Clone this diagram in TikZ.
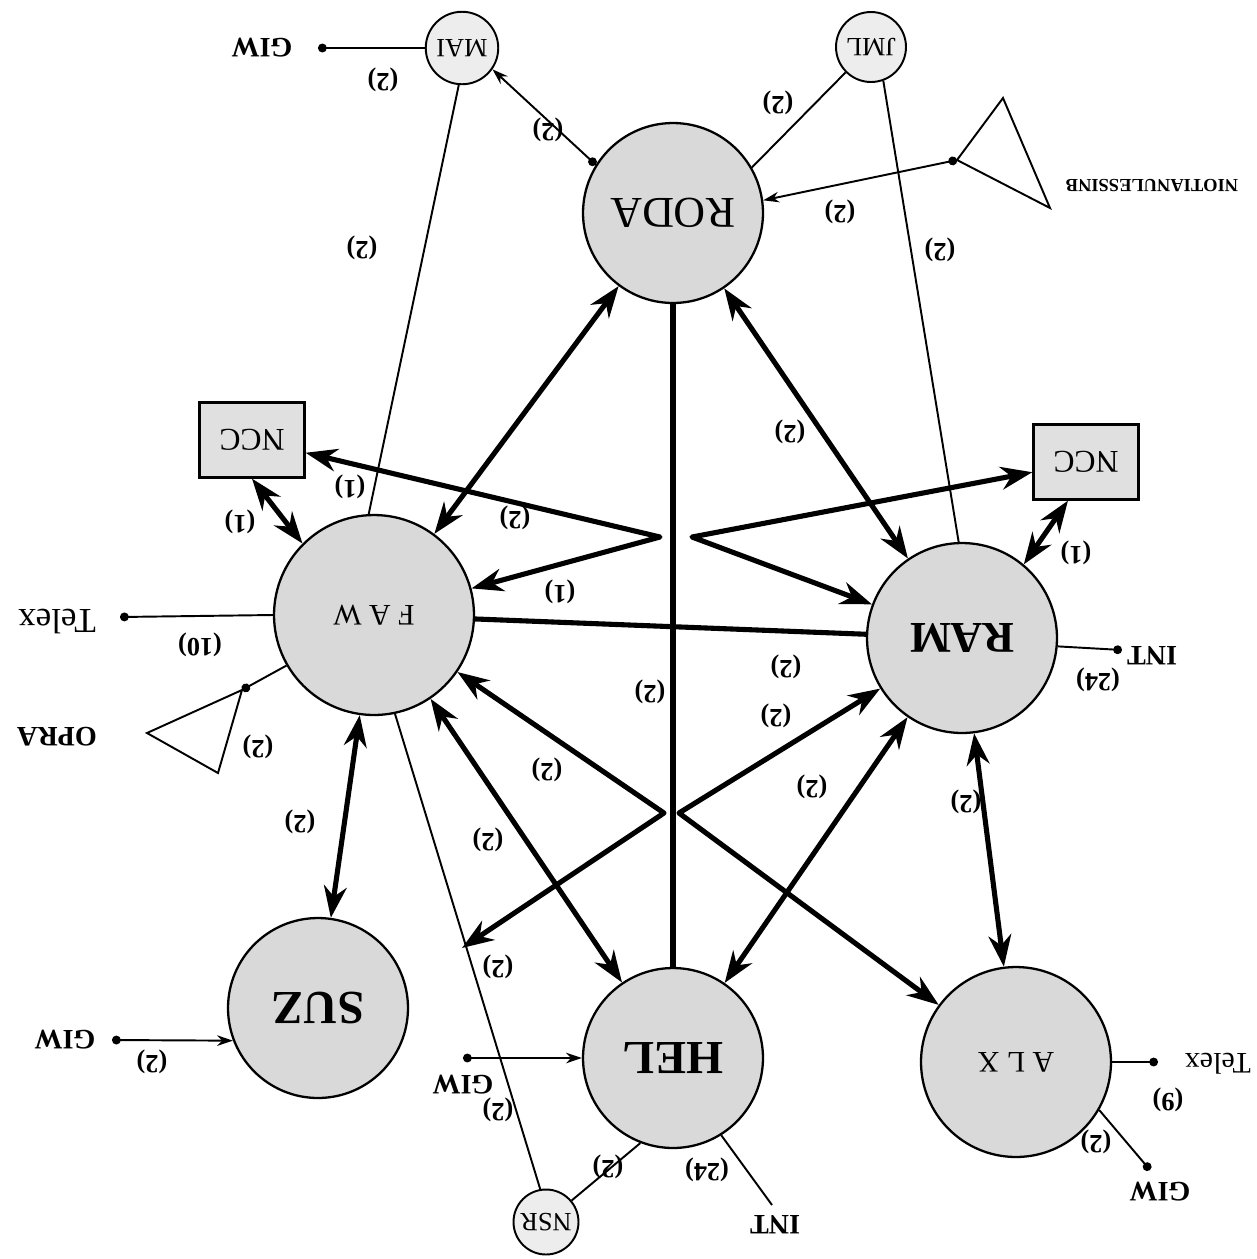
\documentclass[tikz,border=0pt]{standalone}
\usepackage{fontspec}
\setmainfont{Liberation Serif}
\usetikzlibrary{arrows.meta}
\newcommand{\flipt}[1]{\rotatebox[origin=c]{180}{#1}}
\begin{document}
\begin{tikzpicture}[x=0.02cm,y=-0.02cm,
  bignode/.style={circle,draw,line width=1.3pt,fill=gray!30,inner sep=0pt,font=\fontsize{25}{25}\selectfont},
  smallnode/.style={circle,draw,line width=1.1pt,fill=gray!14,inner sep=0pt,minimum size=1.45cm,font=\fontsize{15}{15}\selectfont},
  boxnode/.style={rectangle,draw,line width=1.3pt,fill=gray!24,minimum width=2.1cm,minimum height=1.5cm,font=\fontsize{18}{18}\selectfont},
  lbl/.style={rotate=180,inner sep=1pt,font=\bfseries\fontsize{15}{15}\selectfont},
  ext/.style={rotate=180,inner sep=1pt,font=\bfseries\fontsize{16}{16}\selectfont},
  heavy/.style={line width=2.9pt,line join=round},
  dbl/.style={heavy,{Stealth[length=18pt,width=13pt]}-{Stealth[length=18pt,width=13pt]}},
  plain/.style={heavy},
  hair/.style={line width=1.1pt},
  dotline/.style={hair,{Circle[length=5pt]}-},
  dotarrow/.style={hair,{Circle[length=5pt]}-{Stealth[length=9pt,width=6pt]}}
]
\useasboundingbox (0,0) rectangle (1257,1259);

% main nodes
\node[bignode,minimum size=3.6cm] (RODA) at (673,213) {\flipt{RODA}};
\node[bignode,minimum size=4.0cm] (FAW) at (374,615) {\flipt{\fontsize{17}{17}\selectfont F A W}};
\node[bignode,minimum size=3.8cm] (RAM) at (962,638) {\flipt{\bfseries RAM}};
\node[bignode,minimum size=3.6cm] (SUZ) at (318,1008) {\flipt{\bfseries\fontsize{27}{27}\selectfont SUZ}};
\node[bignode,minimum size=3.6cm] (HEL) at (673,1058) {\flipt{\bfseries\fontsize{27}{27}\selectfont HEL}};
\node[bignode,minimum size=3.8cm] (ALX) at (1016,1062) {\flipt{\fontsize{17}{17}\selectfont A L X}};
\node[smallnode] (MAI) at (462,48) {\flipt{MAI}};
\node[smallnode,minimum size=1.4cm] (JML) at (871,47) {\flipt{JML}};
\node[smallnode,minimum size=1.3cm] (NSR) at (546,1222) {\flipt{NSR}};
\node[boxnode] (NCCL) at (252,440) {\flipt{NCC}};
\node[boxnode] (NCCR) at (1086,462) {\flipt{NCC}};

% helper coordinates
\coordinate (vL1) at (660,537);
\coordinate (vR1) at (692,537);
\coordinate (vL2) at (664,813);
\coordinate (vR2) at (679,813);
\coordinate (pL) at (462,948);
\coordinate (giw1) at (318,48);
\coordinate (telexLd) at (120,617);
\coordinate (tA1) at (242,690);
\coordinate (tA2) at (147,733);
\coordinate (tA3) at (218,773);
\coordinate (tB1) at (957,160);
\coordinate (tB2) at (1003,98);
\coordinate (tB3) at (1050,208);
\coordinate (giw2) at (463,1058);
\coordinate (giw3) at (112,1040);
\coordinate (telexRd) at (1158,1062);
\coordinate (giw4) at (1150,1170);
\coordinate (intB) at (772,1205);
\coordinate (intR) at (1122,650);

% thick connectors
\draw[dbl] (RODA) -- (FAW);
\draw[dbl] (RODA) -- (RAM);
\draw[plain] (FAW) -- (RAM);
\draw[plain] (RODA) -- (HEL);
\draw[dbl] (NCCL) -- (vL1) -- (FAW);
\draw[dbl] (NCCR) -- (vR1) -- (RAM);
\draw[dbl] (FAW) -- (vL2) -- (pL);
\draw[dbl] (RAM) -- (vR2) -- (ALX);
\draw[dbl] (RAM) -- (HEL);
\draw[dbl] (RAM) -- (ALX);
\draw[dbl] (FAW) -- (SUZ);
\draw[dbl] (FAW) -- (HEL);
\draw[dbl] (NCCL.south) -- (FAW.135);
\draw[dbl] (NCCR.-115) -- (RAM.50);

% thin connectors
\draw[dotarrow] (RODA.148) -- (MAI.-35);
\draw[hair] (MAI.-95) -- (FAW.93);
\draw[dotline] (giw1) -- (MAI.west);
\draw[hair] (JML.-135) -- (RODA.30);
\draw[hair] (JML.-70) -- (RAM.92);
\draw[dotarrow] (tB1) -- (RODA.8);
\draw[hair,line join=miter] (tB1) -- (tB2) -- (tB3) -- cycle;
\draw[dotline] (telexLd) -- (FAW.west);
\draw[dotline] (tA1) -- (FAW.210);
\draw[hair,line join=miter] (tA1) -- (tA2) -- (tA3) -- cycle;
\draw[hair] (FAW.-78) -- (NSR.100);
\draw[hair] (HEL.-111) -- (NSR.40);
\draw[hair] (HEL.-58) -- (intB);
\draw[dotarrow] (giw2) -- (HEL.west);
\draw[dotarrow] (giw3) -- (SUZ.201);
\draw[dotline] (telexRd) -- (ALX.east);
\draw[dotline] (giw4) -- (ALX.-30);
\draw[dotline] (intR) -- (RAM.-5);

% external texts
\node[ext] (tGIW1) at (262,48) {GIW};
\node[rotate=180,font=\fontsize{20}{20}\selectfont] (tTelexL) at (57,622) {Telex};
\node[ext] (tOPRA) at (57,737) {OPRA};
\node[rotate=180,font=\bfseries\fontsize{10.5}{10.5}\selectfont] (tNIOT) at (1152,186) {NIOTIANULESSINB};
\node[ext] (tINTR) at (1152,656) {INT};
\node[ext] (tGIW2) at (463,1085) {GIW};
\node[ext] (tGIW3) at (65,1040) {GIW};
\node[rotate=180,font=\fontsize{17}{17}\selectfont] (tTelexR) at (1218,1064) {Telex};
\node[ext] (tGIW4) at (1160,1192) {GIW};
\node[ext] (tINTB) at (775,1225) {INT};

% connector labels
\node[lbl] (l1) at (383,80) {(2)};
\node[lbl] (l2) at (548,130) {(2)};
\node[lbl] (l3) at (362,248) {(2)};
\node[lbl] (l4) at (778,103) {(2)};
\node[lbl] (l5) at (940,250) {(2)};
\node[lbl] (l6) at (840,212) {(2)};
\node[lbl] (l7) at (790,432) {(2)};
\node[lbl] (l8) at (515,518) {(2)};
\node[lbl] (l9) at (350,487) {(1)};
\node[lbl] (l10) at (240,522) {(1)};
\node[lbl] (l11) at (560,592) {(1)};
\node[lbl] (l12) at (1076,553) {(1)};
\node[lbl] (l13) at (786,667) {(2)};
\node[lbl] (l14) at (650,692) {(2)};
\node[lbl] (l15) at (776,716) {(2)};
\node[lbl] (l16) at (547,770) {(2)};
\node[lbl] (l17) at (812,787) {(2)};
\node[lbl] (l18) at (966,802) {(2)};
\node[lbl] (l19) at (300,822) {(2)};
\node[lbl] (l20) at (488,840) {(2)};
\node[lbl] (l21) at (498,967) {(2)};
\node[lbl] (l22) at (200,645) {(10)};
\node[lbl] (l23) at (258,747) {(2)};
\node[lbl] (l24) at (152,1062) {(2)};
\node[lbl] (l25) at (498,1110) {(2)};
\node[lbl] (l26) at (608,1167) {(2)};
\node[lbl] (l27) at (707,1170) {(24)};
\node[lbl] (l28) at (1168,1100) {(9)};
\node[lbl] (l29) at (1096,1142) {(2)};
\node[lbl] (l30) at (1098,680) {(24)};
\end{tikzpicture}
\end{document}
